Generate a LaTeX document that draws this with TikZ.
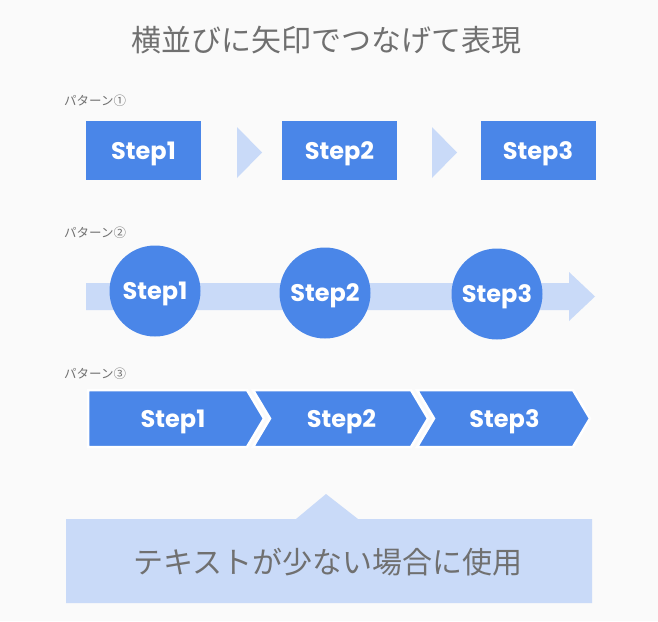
\documentclass[tikz,border=0pt]{standalone}
\usepackage{fontspec}
\newfontfamily\jp{Noto Sans CJK JP}
\newfontfamily\stepfont{Poppins}
\definecolor{bgc}{HTML}{FAFAFA}
\definecolor{mainblue}{HTML}{4A86E8}
\definecolor{lightblue}{HTML}{C9DAF8}
\definecolor{txtgray}{HTML}{707070}
\tikzset{
  stepfnt/.style={font=\stepfont\bfseries\fontsize{24}{28}\selectfont},
  stepbox/.style={fill=mainblue, minimum width=115pt, minimum height=59pt, inner sep=0pt},
  steptxt/.style={text=white, inner sep=0pt, stepfnt},
  stepcirc/.style={circle, fill=mainblue, minimum size=91pt, inner sep=0pt},
  lbl/.style={anchor=west, inner sep=0pt, text=txtgray, font=\jp\fontsize{12.5}{14}\selectfont},
  bigtxt/.style={inner sep=0pt, text=txtgray, font=\jp\fontsize{30}{36}\selectfont},
  chev/.style={fill=mainblue, draw=white, line width=2.5pt, line join=miter}
}
\begin{document}
\begin{tikzpicture}[x=1pt,y=-1pt]
\useasboundingbox (0,0) rectangle (658,621);
\fill[bgc] (0,0) rectangle (658,621);
% title
\node[bigtxt] (title) at (326,40) {横並びに矢印でつなげて表現};
% pattern 1
\node[lbl] (l1) at (64,101) {パターン①};
\node[stepbox] (b1) at (143.5,150.5) {};
\node[stepbox] (b2) at (339.5,150.5) {};
\node[stepbox] (b3) at (538,150.5) {};
\node[steptxt] (t1) at ([yshift=-3.5pt]b1.center) {Step1};
\node[steptxt] (t2) at ([yshift=-3.5pt]b2.center) {Step2};
\node[steptxt] (t3) at ([yshift=-3.5pt]b3.center) {Step3};
\fill[lightblue] (237,127) -- (262,152.5) -- (237,178) -- cycle;
\fill[lightblue] (432,127) -- (457,152.5) -- (432,178) -- cycle;
% pattern 2
\node[lbl] (l2) at (64,233) {パターン②};
\fill[lightblue] (86,283) -- (569,283) -- (569,272) -- (595,296.5) -- (569,321) -- (569,310) -- (86,310) -- cycle;
\node[stepcirc] (c1) at (155,291) {};
\node[stepcirc] (c2) at (325,293) {};
\node[stepcirc] (c3) at (497,294) {};
\node[steptxt] (ct1) at ([yshift=-3pt]c1.center) {Step1};
\node[steptxt] (ct2) at ([yshift=-3pt]c2.center) {Step2};
\node[steptxt] (ct3) at ([yshift=-3pt]c3.center) {Step3};
% pattern 3
\node[lbl] (l3) at (64,374) {パターン③};
\draw[chev] (88,390) -- (247,390) -- (264,418.5) -- (247,447) -- (88,447) -- cycle;
\draw[chev] (253,390) -- (411,390) -- (428,418.5) -- (411,447) -- (253,447) -- (270,418.5) -- cycle;
\draw[chev] (417,390) -- (573,390) -- (590,418.5) -- (573,447) -- (417,447) -- (434,418.5) -- cycle;
\node[steptxt] (s1) at (173,422) {Step1};
\node[steptxt] (s2) at (341.5,422) {Step2};
\node[steptxt] (s3) at (504.5,422) {Step3};
% callout
\fill[lightblue] (66,519) -- (296,519) -- (326,494) -- (358,519) -- (592,519) -- (592,603) -- (66,603) -- cycle;
\node[bigtxt] (note) at (328,562) {テキストが少ない場合に使用};
\end{tikzpicture}
\end{document}
